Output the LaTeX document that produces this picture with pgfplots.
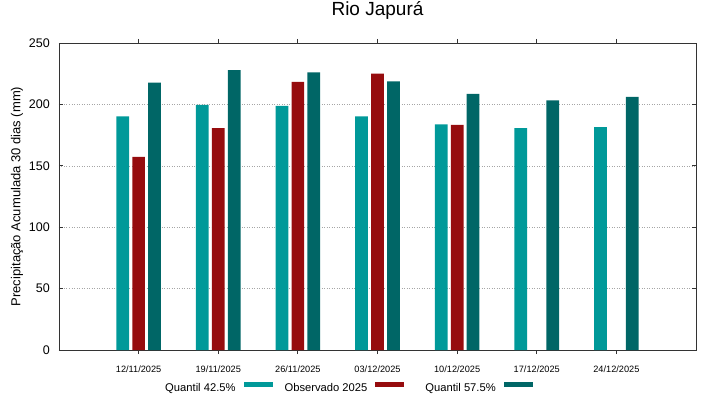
\documentclass[border=0pt]{standalone}
\usepackage{pgfplots}
\pgfplotsset{compat=1.18}
\usepackage{fontspec}
\setmainfont{Liberation Sans}
\definecolor{qa}{RGB}{0,153,153}
\definecolor{obs}{RGB}{150,12,14}
\definecolor{qb}{RGB}{0,102,102}
\begin{document}
\begin{tikzpicture}[x=1pt,y=1pt]
\useasboundingbox (-59,-49) rectangle (660,350);
\begin{axis}[
  at={(0,0)}, anchor=south west,
  scale only axis, width=637pt, height=307pt,
  xmin=-1, xmax=7, ymin=0, ymax=250,
  xtick={0,1,2,3,4,5,6},
  xticklabels={12/11/2025,19/11/2025,26/11/2025,03/12/2025,10/12/2025,17/12/2025,24/12/2025},
  ytick={0,50,100,150,200,250},
  tick align=inside, major tick length=4pt,
  /pgf/number format/assume math mode=true,
  ymajorgrids,
  grid style={dash pattern=on 1pt off 1.5pt, color=gray!70, line width=0.5pt},
  axis line style={line width=0.9pt, color=black!80},
  every tick/.style={line width=0.9pt, color=black!80},
  ybar,
  bar width=0.16,
  title={Rio Japurá},
  title style={font=\fontsize{19}{22}\selectfont, at={(axis description cs:0.5,1)}, anchor=base, yshift=21pt},
  ylabel={Precipitação Acumulada 30 dias (mm)},
  ylabel style={font=\fontsize{13}{15}\selectfont, at={(axis description cs:-0.0659,0.5)}, anchor=center, rotate=0},
  xticklabel style={font=\fontsize{9.2}{10}\selectfont, anchor=base, yshift=-18pt},
  yticklabel style={font=\fontsize{12.5}{14}\selectfont, anchor=east, inner sep=0pt, xshift=-9pt},
  legend plot pos=right,
  legend columns=3,
  legend style={at={(axis description cs:0.4537,-0.126)}, anchor=center, draw=none, fill=none,
    font=\fontsize{11.2}{13}\selectfont, inner sep=0pt,
    /tikz/every odd column/.append style={column sep=6pt},
    /tikz/column 2/.style={column sep=10pt},
    /tikz/column 4/.style={column sep=19pt}},
  lg/.style={legend image code/.code={\fill (0pt,1.3pt) rectangle (29pt,6.3pt);}},
]
\addplot[fill=qa, draw=none, bar shift=-0.2, lg] coordinates {
  (0,190.3) (1,199.6) (2,198.7) (3,190.3) (4,183.8) (5,180.6) (6,181.4)};
\addlegendentry{Quantil 42.5\%}
\addplot[fill=obs, draw=none, bar shift=0, lg] coordinates {
  (0,157.3) (1,180.6) (2,218.3) (3,225.0) (4,183.3)};
\addlegendentry{Observado 2025}
\addplot[fill=qb, draw=none, bar shift=0.2, lg] coordinates {
  (0,217.7) (1,228.0) (2,226.1) (3,218.8) (4,208.5) (5,203.3) (6,206.1)};
\addlegendentry{Quantil 57.5\%}
\end{axis}
\end{tikzpicture}
\end{document}
